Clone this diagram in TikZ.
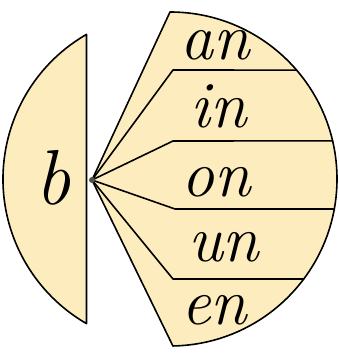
\documentclass[tikz,border=0pt]{standalone}
\usetikzlibrary{calc}
\definecolor{pale}{RGB}{252,236,190}
\definecolor{hubgrey}{RGB}{80,80,70}
\begin{document}
\begin{tikzpicture}[x=1pt,y=1pt,
  piece/.style={fill=pale,draw=black,line width=1.6pt,line join=round},
  divider/.style={draw=black,line width=1.6pt,line join=round,line cap=round},
  word/.style={font=\fontsize{66}{66}\selectfont\itshape,inner sep=0pt,anchor=base west},
  bigword/.style={font=\fontsize{78}{78}\selectfont\itshape,inner sep=0pt,anchor=base west}]
\useasboundingbox (0,0) rectangle (339,354);
\coordinate (C) at (170,175);
\coordinate (H) at (92,174);
\coordinate (T) at ($(C)+(90:167)$);
\coordinate (L1) at ($(C)+(120:167)$);
% left segment
\draw[piece] (L1) arc[start angle=120,end angle=240,radius=167] -- cycle;
% fan
\draw[piece] (H) -- (T) arc[start angle=90,end angle=-89,radius=167] -- cycle;
% dividers
\coordinate (K1) at (173,284); \coordinate (E1) at ($(C)+(40.7:167)$);
\coordinate (K2) at (173,213); \coordinate (E2) at ($(C)+(13.2:167)$);
\coordinate (K3) at (175,145); \coordinate (E3) at ($(C)+(-10.35:167)$);
\coordinate (K4) at (173,75);  \coordinate (E4) at ($(C)+(-36.8:167)$);
\draw[divider] (H) -- (K1) -- (E1);
\draw[divider] (H) -- (K2) -- (E2);
\draw[divider] (H) -- (K3) -- (E3);
\draw[divider] (H) -- (K4) -- (E4);
\fill[hubgrey] (H) circle (3);
% words
\node[word] (an) at (180,294) {an};
\node[word] (in) at (190,226) {in};
\node[word] (on) at (181,157) {on};
\node[word] (un) at (188,92) {un};
\node[word] (en) at (181,29) {en};
\node[bigword] (b) at (35,149) {b};
\end{tikzpicture}
\end{document}
